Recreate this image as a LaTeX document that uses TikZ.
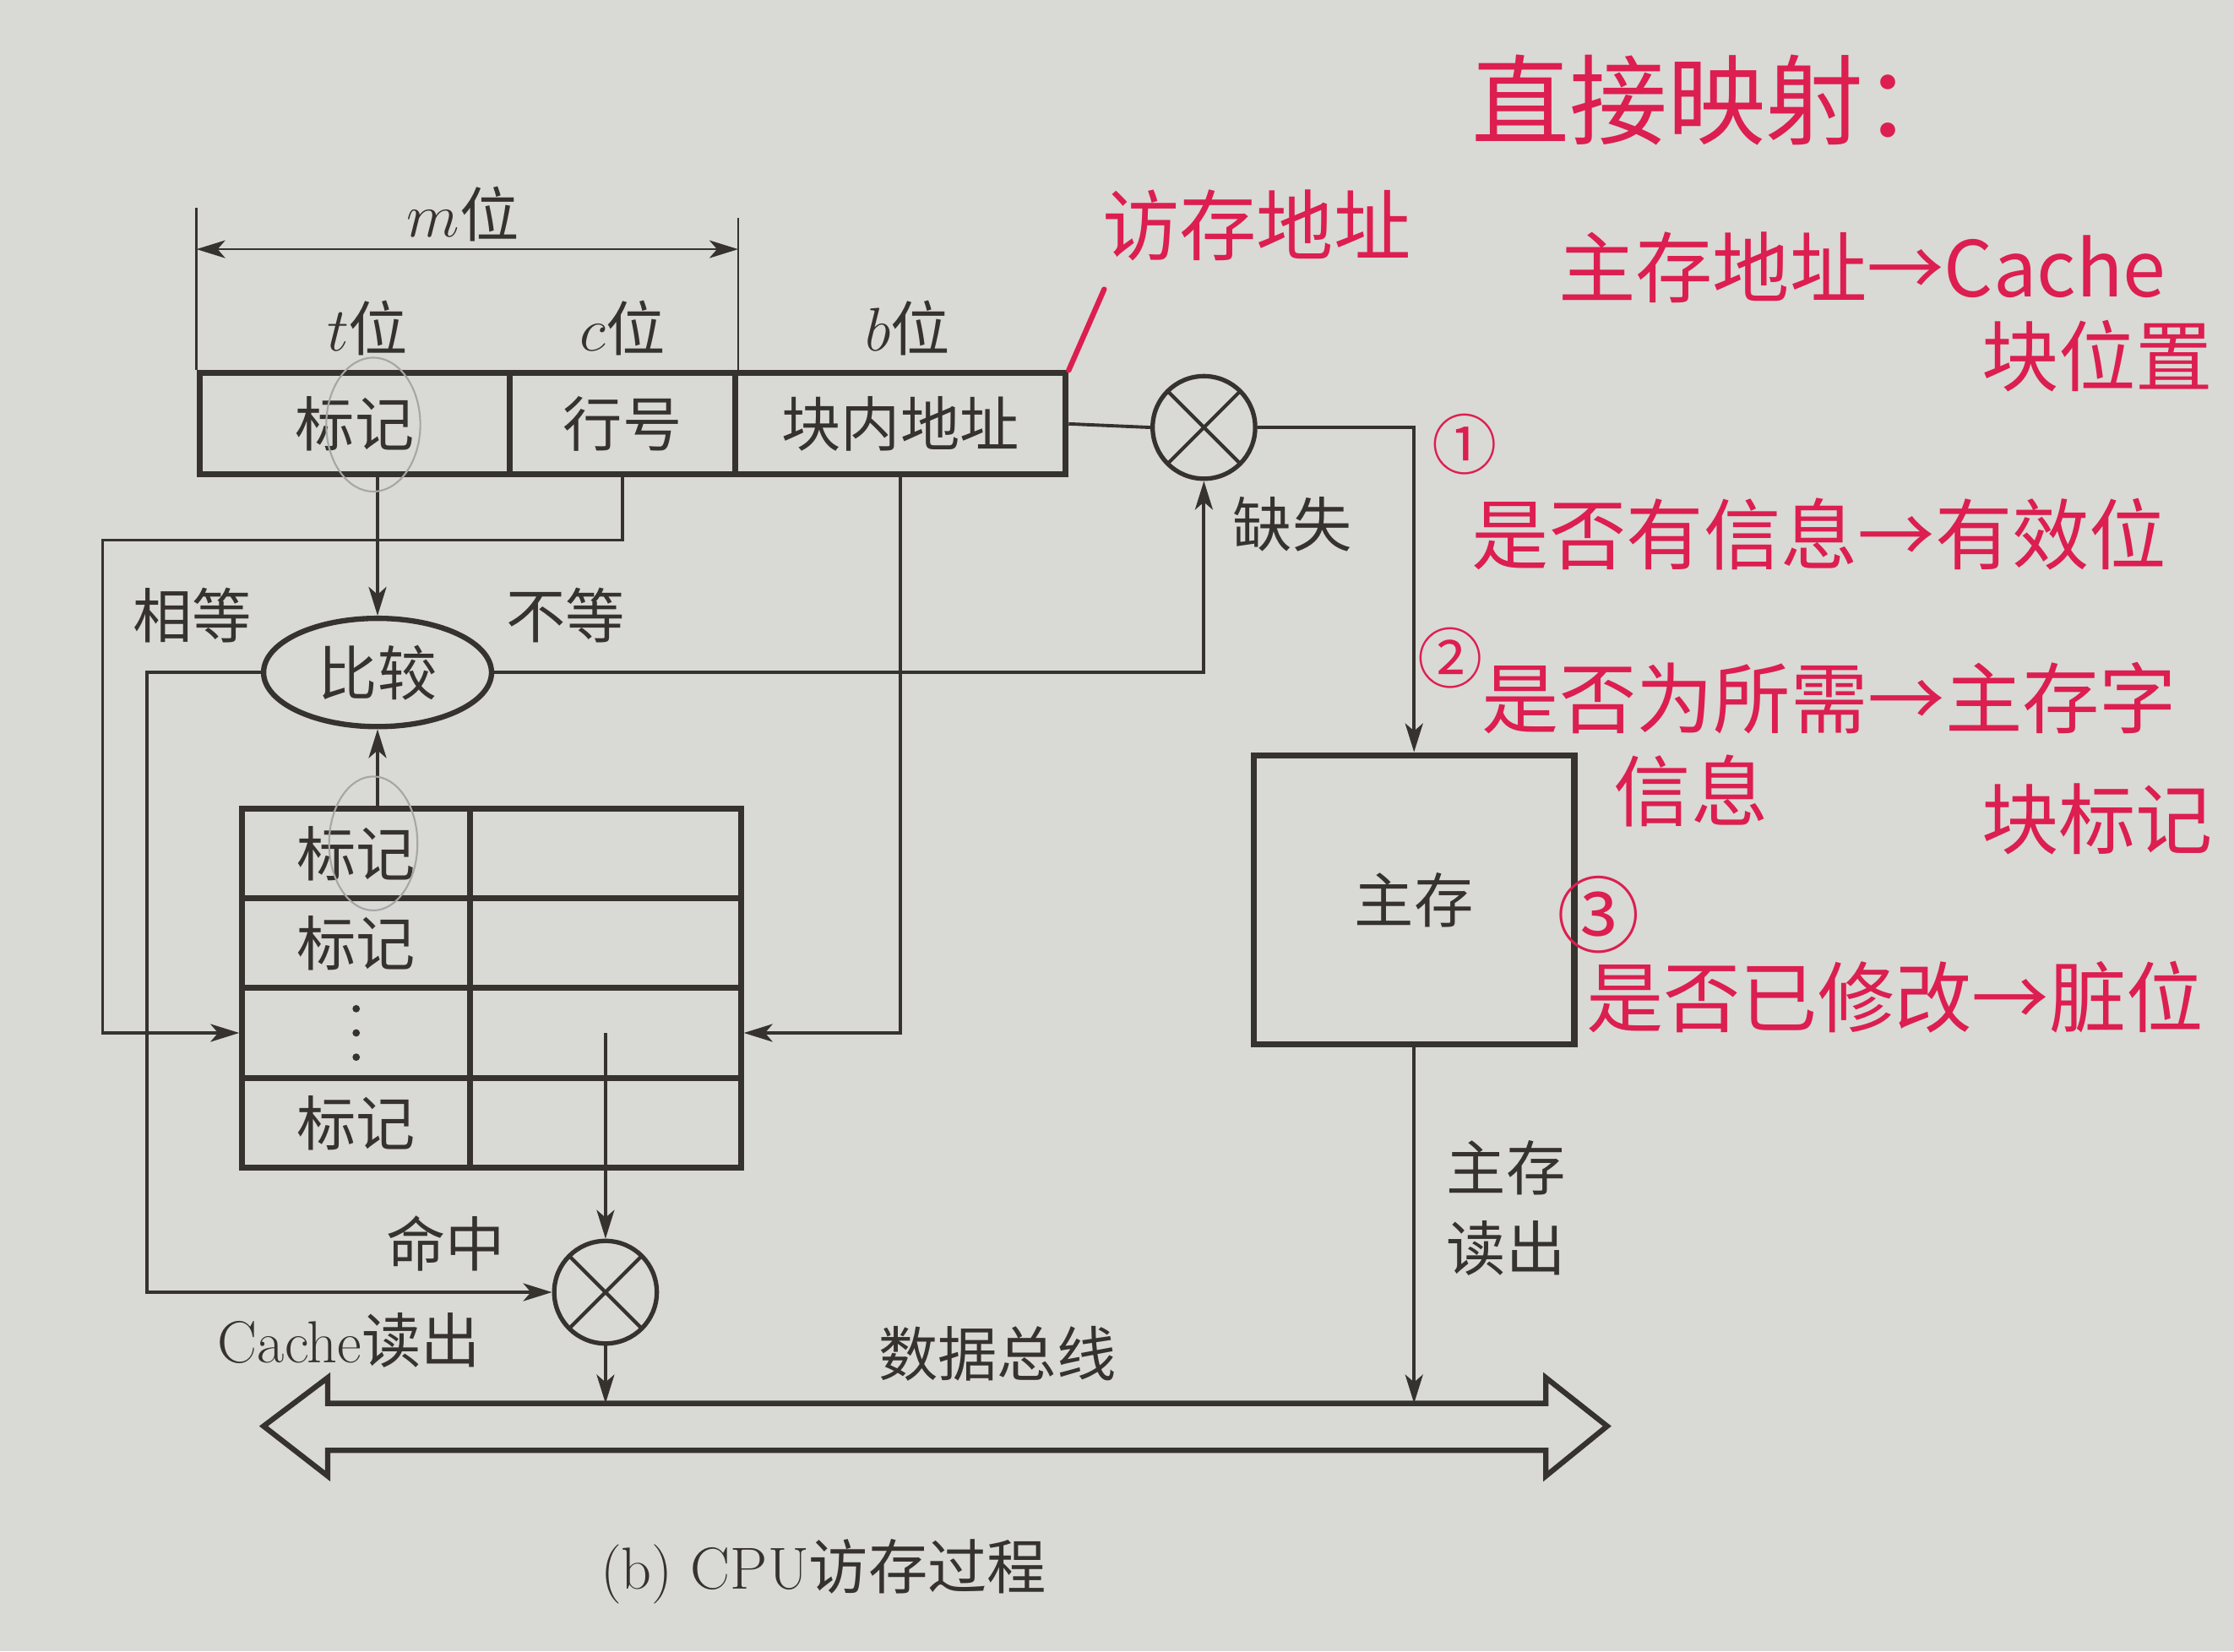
\documentclass[tikz,border=0pt]{standalone}
\usepackage{fontspec}
\usepackage{amsmath}
\usetikzlibrary{arrows.meta, positioning, shapes.geometric, calc}
\newfontfamily\cjk{Noto Sans CJK SC}
\definecolor{Paper}{HTML}{D9D9D5}
\definecolor{Ink}{HTML}{36322E}
\definecolor{Pen}{HTML}{DC1E50}
\newcommand{\upx}{0.1687mm}
\tikzset{
  cell/.style={draw=Ink, line width=2pt, inner sep=0pt, minimum height={71*\upx},
    text=Ink, font=\cjk\fontsize{20}{24}\selectfont},
  lab/.style={text=Ink, inner sep=0pt, font=\cjk\fontsize{20}{24}\selectfont},
  conn/.style={draw=Ink, line width=1.1pt},
  arr/.style={conn, -{Stealth[length=3.4mm, width=2.1mm, inset=0.9mm]}},
  mux/.style={circle, draw=Ink, line width=1.5pt, minimum size={72*\upx}, inner sep=0pt,
    path picture={\draw[Ink, line width=1.2pt]
      (path picture bounding box.north west) -- (path picture bounding box.south east)
      (path picture bounding box.south west) -- (path picture bounding box.north east);}},
  hand/.style={text=Pen, inner sep=0pt, font=\cjk\fontsize{26}{30}\selectfont},
  pen/.style={draw=Pen, line width=1.8pt, line cap=round},
  pencil/.style={draw=gray!70, line width=0.6pt},
}

\begin{document}
\begin{tikzpicture}[x=0.1687mm, y=-0.1687mm]
    % paper
    \fill[Paper] (0,0) rectangle (1568,1159);
    \useasboundingbox (0,0) rectangle (1568,1159);

    % Address fields
    \node[cell, minimum width={218*\upx}] (tagf) at (249,297.5) {标记};
    \node[cell, minimum width={158*\upx}] (rowf) at (437,297.5) {行号};
    \node[cell, minimum width={232*\upx}] (offf) at (632,297.5) {块内地址};

    % Bit widths
    \draw[conn, line width=0.8pt] (tagf.north west) -- ++(0,-114);
    \draw[conn, line width=0.8pt] (rowf.north east) -- ++(0,-107);
    \draw[conn, line width=0.8pt, {Stealth[length=3.4mm, width=2.1mm, inset=0.9mm]}-{Stealth[length=3.4mm, width=2.1mm, inset=0.9mm]}]
        ($(tagf.north west)+(0,-85)$) -- ($(rowf.north east)+(0,-85)$);
    \node[lab] (mbits) at (325,150) {$m$位};
    \node[lab] (tbits) at (258,230) {$t$位};
    \node[lab] (cbits) at (437,230) {$c$位};
    \node[lab] (bbits) at (637,230) {$b$位};

    % Compare
    \node[ellipse, draw=Ink, line width=1.8pt, minimum width={160*\upx}, minimum height={76*\upx},
        inner sep=0pt, lab] (cmp) at (265,472) {比较};

    % Cache lines
    \foreach \i/\t in {1/标记, 2/标记, 3/, 4/标记} {
        \node[cell, minimum width={160*\upx}, minimum height={63*\upx}] (ct\i) at (250,536+63*\i) {\t};
        \node[cell, minimum width={190*\upx}, minimum height={63*\upx}] (cd\i) at (425,536+63*\i) {};
    }
    \foreach \d in {-17,0,17}
        \fill[Ink] ($(ct3.center)+(0,\d)$) circle (2.6);

    % Main memory
    \node[cell, minimum width={225*\upx}, minimum height={203*\upx}] (mem) at (992.5,631.5) {主存};

    % Selectors
    \node[mux] (miss) at (845,300) {};
    \node[mux] (hit) at (425,907) {};

    % Data bus
    \coordinate (bustop) at (700,985);
    \draw[Ink, line width=1.8pt, line join=miter]
        (230,985) -- (1085,985) -- (1085,967) -- (1128,1001) -- (1085,1036) -- (1085,1018)
        -- (230,1018) -- (230,1036) -- (185,1001) -- (230,967) -- cycle;
    \node[lab] (busl) at (700,950) {数据总线};

    % Connections
    \draw[arr] (cmp |- tagf.south) -- (cmp.north);
    \draw[arr] (ct1.north -| cmp) -- (cmp.south);
    \coordinate (lrail) at (72,725);
    \draw[arr] (rowf.south) -- ++(0,44) -| (lrail) -- (ct3.west);
    \draw[arr] (offf.south) |- (cd3.east);
    \draw[arr] (cmp.east) -| (miss.south);
    \draw[arr] (cmp.west) -- ++(-80,0) |- (hit.west);
    \draw[arr] (cd3.center) -- (hit.north);
    \draw[arr] (hit.south) -- (hit.south |- bustop);
    \draw[conn] (offf.east) -- (miss.west);
    \draw[arr] (miss.east) -| (mem.north);
    \draw[arr] (mem.south) -- (mem.south |- bustop);

    \node[lab] (eq) at (135,432) {相等};
    \node[lab] (neq) at (397,432) {不等};
    \node[lab] (missl) at (907,368) {缺失};
    \node[lab] (hitl) at (313,873) {命中};
    \node[lab] (cread) at (245,941) {\rmfamily Cache\cjk 读出};
    \node[lab, align=center, font=\cjk\fontsize{20}{27}\selectfont] (mread) at (1057,848) {主存\\读出};

    % Caption
    \node[lab] (cap) at (578,1103) {\rmfamily (b) CPU\cjk 访存过程};

    % Pencil marks
    \draw[pencil] (262,298) ellipse (33 and 47);
    \draw[pencil] (262,592) ellipse (31 and 47);

    % Handwritten notes
    \node[hand, font=\cjk\fontsize{33}{40}\selectfont] (title) at (1205,70) {直接映射：};
    \node[hand] (n0) at (882,158) {访存地址};
    \draw[pen] (offf.north east) -- (775,203);
    \node[hand] (n1) at (1307,188) {主存地址→Cache};
    \node[hand] (n1b) at (1472,250) {块位置};
    \node[hand, font=\cjk\fontsize{22}{26}\selectfont] (c1) at (1028,312) {①};
    \node[hand] (n2) at (1277,375) {是否有信息→有效位};
    \node[hand, font=\cjk\fontsize{22}{26}\selectfont] (c2) at (1018,462) {②};
    \node[hand] (n3) at (1284,490) {是否为所需→主存字};
    \node[hand] (n3b) at (1187,555) {信息};
    \node[hand] (n3c) at (1472,575) {块标记};
    \node[hand, font=\cjk\fontsize{28}{32}\selectfont] (c3) at (1122,642) {③};
    \node[hand] (n4) at (1330,700) {是否已修改→脏位};
\end{tikzpicture}
\end{document}
